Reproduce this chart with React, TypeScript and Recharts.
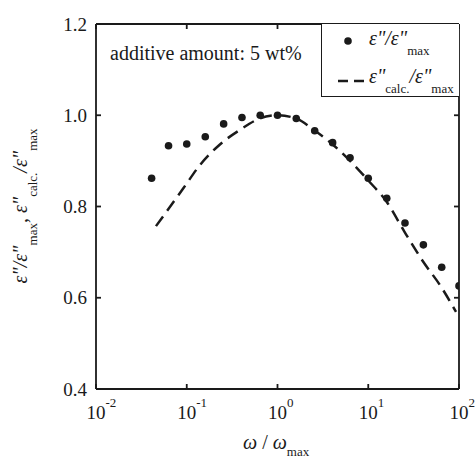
import React from 'react';
import { ComposedChart, Line, Scatter, XAxis, YAxis, Legend } from 'recharts';

// measured points, eps''/eps''max vs omega/omega_max
const measuredX = [0.041, 0.063, 0.1, 0.16, 0.255, 0.406, 0.645, 1.0, 1.61, 2.57, 4.05, 6.3, 10, 16, 25.4, 40.5, 64.5, 100];
const measuredY = [0.862, 0.933, 0.937, 0.953, 0.981, 0.995, 1.0, 1.0, 0.993, 0.966, 0.94, 0.907, 0.862, 0.818, 0.764, 0.716, 0.667, 0.626];

// calculated curve
const calcX = [0.0458, 0.06, 0.0917, 0.14, 0.232, 0.386, 0.641, 1.0, 1.6, 2.5, 4.0, 6.3, 10, 16, 25, 40, 63, 92.7];
const calcY = [0.757, 0.789, 0.84, 0.891, 0.936, 0.968, 0.993, 1.0, 0.993, 0.968, 0.937, 0.9, 0.857, 0.81, 0.745, 0.68, 0.625, 0.569];

const xTicks = [0.01, 0.1, 1, 10, 100];
const xExp = ['-2', '-1', '0', '1', '2'];
const yTicks = [0.4, 0.6, 0.8, 1.0, 1.2];

const measured = measuredX.map((x, i) => ({ x, y: measuredY[i] }));
const calc = calcX.map((x, i) => ({ x, y: calcY[i] }));

const FONT = '"Liberation Serif", "Times New Roman", serif';
const INK = '#1a1a1a';

const BottomTick = (props: any) => {
  const { x, y, payload, index } = props;
  const i = xTicks.indexOf(payload.value);
  return (
    <g>
      <line x1={x} y1={y} x2={x} y2={y - 5} stroke={INK} strokeWidth={1.8} />
      <text x={x - 9.5} y={y + 30} fontFamily={FONT} fontSize={19} fill={INK}>
        10
        <tspan dy={-12} fontSize={13}>{xExp[i >= 0 ? i : index]}</tspan>
      </text>
    </g>
  );
};

const TopTick = (props: any) => {
  const { x, y } = props;
  return <line x1={x} y1={y} x2={x} y2={y + 5} stroke={INK} strokeWidth={1.8} />;
};

const LeftTick = (props: any) => {
  const { x, y, payload } = props;
  return (
    <g>
      <line x1={x} y1={y} x2={x + 5} y2={y} stroke={INK} strokeWidth={1.8} />
      <text x={x - 9} y={y} dy="0.35em" textAnchor="end" fontFamily={FONT} fontSize={19} fill={INK}>
        {payload.value.toFixed(1)}
      </text>
    </g>
  );
};

const RightTick = (props: any) => {
  const { x, y } = props;
  return <line x1={x} y1={y} x2={x - 5} y2={y} stroke={INK} strokeWidth={1.8} />;
};

const Dot = (props: any) => <circle cx={props.cx} cy={props.cy} r={3.8} fill={INK} />;

const LegendBox = () => (
  <svg width={138} height={73} style={{ display: 'block', overflow: 'visible' }}>
    <circle cx={26} cy={17} r={3.8} fill={INK} />
    <text x={47} y={21} fontFamily={FONT} fontSize={20} fill={INK}>
      <tspan fontStyle="italic">ε"/ε"</tspan>
      <tspan dy={10} fontSize={13}>max</tspan>
    </text>
    <line x1={16} y1={57} x2={42} y2={57} stroke={INK} strokeWidth={2.5} strokeDasharray="10 6" />
    <text x={47} y={59} fontFamily={FONT} fontSize={20} fill={INK}>
      <tspan fontStyle="italic">ε"</tspan>
      <tspan dy={10} fontSize={13}>calc.</tspan>
      <tspan dy={-10} fontStyle="italic">/ε"</tspan>
      <tspan dy={10} fontSize={13}>max</tspan>
    </text>
  </svg>
);

export default function App() {
  return (
    <div style={{ position: 'absolute', left: 0, top: 0, width: 476, height: 459, background: '#fff' }}>
      <ComposedChart width={476} height={459} margin={{ top: 23, right: 16, bottom: 69, left: 95 }}>
        <XAxis
          xAxisId="b"
          dataKey="x"
          type="number"
          scale="log"
          domain={[0.01, 100]}
          ticks={xTicks}
          interval={0}
          allowDataOverflow
          orientation="bottom"
          height={1}
          tickSize={0}
          tickMargin={0}
          tickLine={false}
          axisLine={{ stroke: INK, strokeWidth: 1.8 }}
          tick={<BottomTick />}
        />
        <XAxis
          xAxisId="t"
          dataKey="x"
          type="number"
          scale="log"
          domain={[0.01, 100]}
          ticks={xTicks}
          interval={0}
          allowDataOverflow
          orientation="top"
          height={1}
          tickSize={0}
          tickMargin={0}
          tickLine={false}
          axisLine={{ stroke: INK, strokeWidth: 1.8 }}
          tick={<TopTick />}
        />
        <YAxis
          yAxisId="l"
          dataKey="y"
          type="number"
          domain={[0.4, 1.2]}
          ticks={yTicks}
          interval={0}
          allowDataOverflow
          orientation="left"
          width={1}
          tickSize={0}
          tickMargin={0}
          tickLine={false}
          axisLine={{ stroke: INK, strokeWidth: 1.8 }}
          tick={<LeftTick />}
        />
        <YAxis
          yAxisId="r"
          dataKey="y"
          type="number"
          domain={[0.4, 1.2]}
          ticks={yTicks}
          interval={0}
          allowDataOverflow
          orientation="right"
          width={1}
          tickSize={0}
          tickMargin={0}
          tickLine={false}
          axisLine={{ stroke: INK, strokeWidth: 1.8 }}
          tick={<RightTick />}
        />
        <Legend
          layout="vertical"
          align="center"
          verticalAlign="middle"
          content={<LegendBox />}
          wrapperStyle={{
            position: 'absolute',
            left: 321,
            top: 24,
            width: 138,
            height: 73,
            borderLeft: `1px solid ${INK}`,
            borderBottom: `1px solid ${INK}`,
            background: '#fff',
            boxSizing: 'border-box',
          }}
        />
        <Line
          xAxisId="b"
          yAxisId="l"
          data={calc}
          dataKey="y"
          type="monotone"
          stroke={INK}
          strokeWidth={2.5}
          strokeDasharray="12 7"
          dot={false}
          activeDot={false}
          isAnimationActive={false}
          legendType="none"
        />
        <Scatter
          xAxisId="b"
          yAxisId="l"
          data={measured}
          dataKey="y"
          fill={INK}
          shape={<Dot />}
          isAnimationActive={false}
          legendType="none"
        />
      </ComposedChart>
      <svg width={476} height={459} style={{ position: 'absolute', left: 0, top: 0, pointerEvents: 'none' }}>
        <text x={110} y={60} fontFamily={FONT} fontSize={20} fill={INK}>additive amount: 5 wt%</text>
        <text x={243} y={449} fontFamily={FONT} fontSize={20} fill={INK}>
          <tspan fontStyle="italic">ω</tspan>
          <tspan> / </tspan>
          <tspan fontStyle="italic">ω</tspan>
          <tspan dy={7} fontSize={13}>max</tspan>
        </text>
        <text
          x={27}
          y={206}
          transform="rotate(-90 27 206)"
          textAnchor="middle"
          fontFamily={FONT}
          fontSize={20}
          fill={INK}
        >
          <tspan fontStyle="italic">ε"/ε"</tspan>
          <tspan dy={10} fontSize={13}>max</tspan>
          <tspan dy={-10}>, </tspan>
          <tspan fontStyle="italic">ε"</tspan>
          <tspan dy={10} fontSize={13}>calc.</tspan>
          <tspan dy={-10} fontStyle="italic">/ε"</tspan>
          <tspan dy={10} fontSize={13}>max</tspan>
        </text>
      </svg>
    </div>
  );
}
